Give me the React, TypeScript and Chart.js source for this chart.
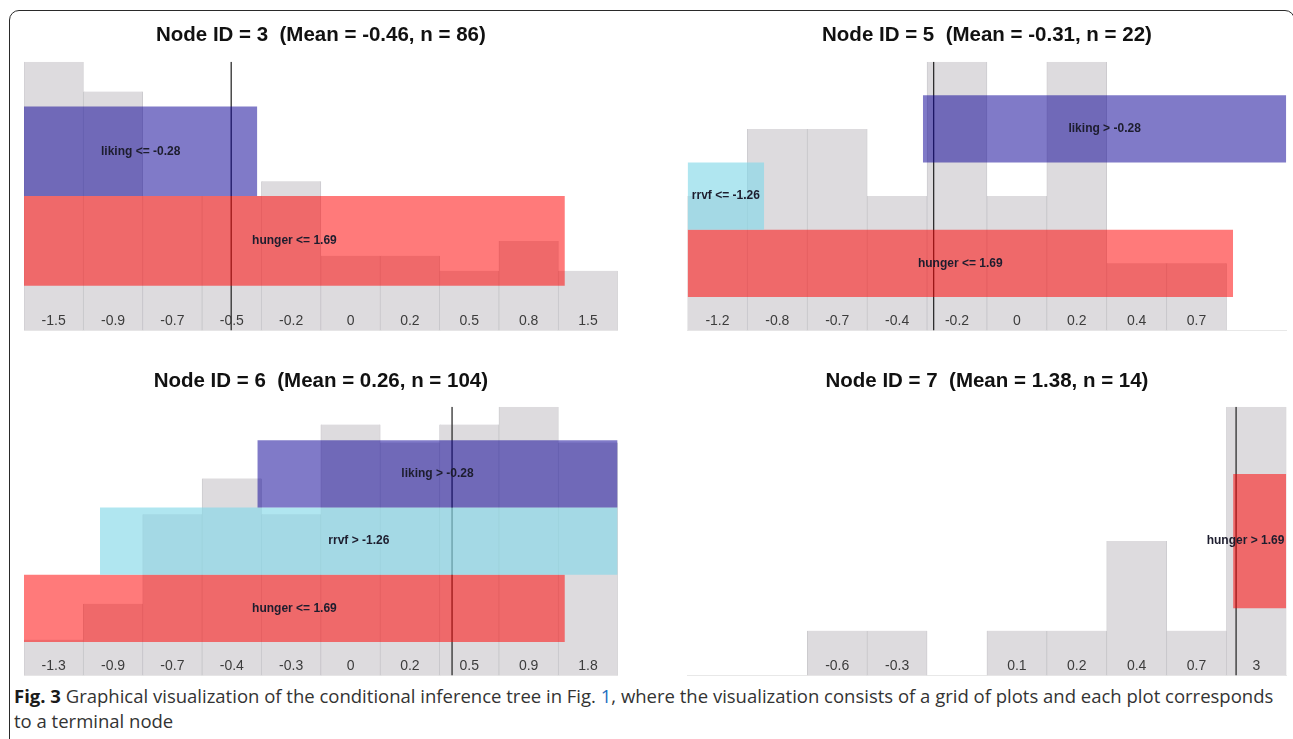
import React, { useEffect, useRef } from "react";
import { Chart, registerables } from "chart.js";

Chart.register(...registerables);

// ---------- Data ----------
// Node 3
const node3Title = "Node ID = 3  (Mean = -0.46, n = 86)";
const node3Bins = ["-1.5", "-0.9", "-0.7", "-0.5", "-0.2", "0", "0.2", "0.5", "0.8", "1.5"];
const node3Counts = [18, 16, 9, 9, 10, 5, 5, 4, 6, 4];
const node3MeanPos = 3.49;
const node3Rules = ["liking <= -0.28", "hunger <= 1.69"];
const node3RuleFrom = [0, 0];
const node3RuleTo = [3.93, 9.11];
const node3RuleLow = [9, 3];
const node3RuleHigh = [15, 9];

// Node 5
const node5Title = "Node ID = 5  (Mean = -0.31, n = 22)";
const node5Bins = ["-1.2", "-0.8", "-0.7", "-0.4", "-0.2", "0", "0.2", "0.4", "0.7", ""];
const node5Counts = [2, 3, 3, 2, 4, 2, 4, 1, 1, 0];
const node5MeanPos = 4.11;
const node5Rules = ["liking > -0.28", "rrvf <= -1.26", "hunger <= 1.69"];
const node5RuleFrom = [3.93, 0, 0];
const node5RuleTo = [10, 1.28, 9.11];
const node5RuleLow = [2.5, 1.5, 0.5];
const node5RuleHigh = [3.5, 2.5, 1.5];

// Node 6
const node6Title = "Node ID = 6  (Mean = 0.26, n = 104)";
const node6Bins = ["-1.3", "-0.9", "-0.7", "-0.4", "-0.3", "0", "0.2", "0.5", "0.9", "1.8"];
const node6Counts = [2, 4, 9, 11, 9, 14, 13, 14, 15, 13];
const node6MeanPos = 7.21;
const node6Rules = ["liking > -0.28", "rrvf > -1.26", "hunger <= 1.69"];
const node6RuleFrom = [3.93, 1.28, 0];
const node6RuleTo = [10, 10, 9.11];
const node6RuleLow = [9.375, 5.625, 1.875];
const node6RuleHigh = [13.125, 9.375, 5.625];

// Node 7
const node7Title = "Node ID = 7  (Mean = 1.38, n = 14)";
const node7Bins = ["", "", "-0.6", "-0.3", "", "0.1", "0.2", "0.4", "0.7", "3"];
const node7Counts = [0, 0, 1, 1, 0, 1, 1, 3, 1, 6];
const node7MeanPos = 9.16;
const node7Rules = ["hunger > 1.69"];
const node7RuleFrom = [9.11];
const node7RuleTo = [10];
const node7RuleLow = [1.5];
const node7RuleHigh = [4.5];

const SLOTS = 10;

const ruleColors: Record<string, string> = {
  liking: "rgba(12, 0, 150, 0.52)",
  rrvf: "rgba(133, 217, 232, 0.65)",
  hunger: "rgba(255, 0, 0, 0.52)",
};

type PanelProps = {
  title: string;
  bins: string[];
  counts: number[];
  meanPos: number;
  rules: string[];
  from: number[];
  to: number[];
  low: number[];
  high: number[];
  left: number;
  top: number;
  width: number;
  height: number;
  pad: { left: number; right: number; bottom: number };
  titlePad: { top: number; bottom: number };
};

function Panel(p: PanelProps) {
  const ref = useRef<HTMLCanvasElement | null>(null);
  useEffect(() => {
    if (!ref.current) return;
    const maxCount = Math.max(...p.counts);

    const labelPlugin = {
      id: "panelLabels",
      afterDatasetsDraw(chart: any) {
        const { ctx, chartArea, scales } = chart;
        const x = scales.x;
        const y = scales.y;
        ctx.save();
        // bin tick labels inside the bars
        ctx.font = '14px "Liberation Sans", Arial, sans-serif';
        ctx.fillStyle = "#3c3c3c";
        ctx.textAlign = "center";
        ctx.textBaseline = "middle";
        p.bins.forEach((b, i) => {
          if (!b) return;
          ctx.fillText(b, x.getPixelForValue(i + 0.5), y.getPixelForValue(0) - 9.5);
        });
        // rule labels
        ctx.font = 'bold 12px "Liberation Sans", Arial, sans-serif';
        ctx.fillStyle = "#1d1d2e";
        p.rules.forEach((r, i) => {
          const w = ctx.measureText(r).width;
          let cx = (x.getPixelForValue(p.from[i]) + x.getPixelForValue(p.to[i])) / 2;
          const maxCx = chartArea.right - w / 2 - 2;
          if (cx > maxCx) cx = maxCx;
          const cy = (y.getPixelForValue(p.low[i]) + y.getPixelForValue(p.high[i])) / 2;
          ctx.fillText(r, cx, cy);
        });
        ctx.restore();
      },
    };

    const ruleSets = p.rules.map((r, i) => ({
      type: "line" as const,
      data: [
        { x: p.from[i], y: p.high[i] },
        { x: p.to[i], y: p.high[i] },
      ],
      fill: { value: p.low[i] },
      backgroundColor: ruleColors[r.split(" ")[0]],
      borderColor: "rgba(0,0,0,0)",
      borderWidth: 0,
      pointRadius: 0,
      tension: 0,
      order: 1,
    }));

    const chart = new Chart(ref.current, {
      type: "bar",
      data: {
        datasets: [
          {
            type: "bar",
            data: p.counts.map((c, i) => ({ x: i + 0.5, y: c })),
            backgroundColor: "#dddbde",
            borderColor: "#c5c4c8",
            borderWidth: { left: 0.75, right: 0.75, top: 0, bottom: 0 },
            borderSkipped: false,
            barPercentage: 1,
            categoryPercentage: 1,
            order: 3,
          } as any,
          {
            type: "line",
            data: [
              { x: p.meanPos, y: 0 },
              { x: p.meanPos, y: maxCount },
            ],
            borderColor: "#2e2e2e",
            borderWidth: 1.3,
            pointRadius: 0,
            fill: false,
            order: 2,
          } as any,
          ...(ruleSets as any[]),
        ],
      },
      options: {
        animation: false,
        responsive: false,
        devicePixelRatio: 1,
        layout: { padding: { left: p.pad.left, right: p.pad.right, bottom: p.pad.bottom, top: 0 } },
        plugins: {
          legend: { display: false },
          tooltip: { enabled: false },
          title: {
            display: true,
            text: p.title,
            color: "#111111",
            font: { family: '"Liberation Sans", Arial, sans-serif', size: 20.5, weight: "bold" },
            padding: { top: p.titlePad.top, bottom: p.titlePad.bottom },
          },
        },
        scales: {
          x: {
            type: "linear",
            min: 0,
            max: SLOTS,
            offset: false,
            display: true,
            grid: { display: false, drawTicks: false, offset: false },
            ticks: { display: false, stepSize: 1 },
            border: { display: true, color: "#e8e8e8", width: 1 },
          },
          y: { type: "linear", min: 0, max: maxCount, display: false },
        },
      } as any,
      plugins: [labelPlugin],
    });
    return () => chart.destroy();
  }, []);

  return (
    <canvas
      ref={ref}
      width={p.width}
      height={p.height}
      style={{ position: "absolute", left: p.left, top: p.top, width: p.width, height: p.height }}
    />
  );
}

export default function App() {
  const leftCol = { left: 14, width: 616, pad: { left: 10, right: 12.3, bottom: 4.5 } };
  const rightCol = { left: 676, width: 615, pad: { left: 11.5, right: 4.6, bottom: 4.5 } };
  const topRow = { top: 10, height: 325, titlePad: { top: 12.7, bottom: 14.4 } };
  const botRow = { top: 355, height: 325, titlePad: { top: 14.4, bottom: 12.7 } };

  return (
    <div
      style={{
        position: "absolute",
        left: 0,
        top: 0,
        width: 1293,
        height: 739,
        overflow: "hidden",
        background: "#ffffff",
      }}
    >
      <div
        style={{
          position: "absolute",
          left: 9,
          top: 10,
          width: 1286,
          height: 900,
          border: "1.3px solid #2a2a2a",
          borderRadius: 10,
          boxSizing: "border-box",
        }}
      />
      <Panel
        title={node3Title}
        bins={node3Bins}
        counts={node3Counts}
        meanPos={node3MeanPos}
        rules={node3Rules}
        from={node3RuleFrom}
        to={node3RuleTo}
        low={node3RuleLow}
        high={node3RuleHigh}
        {...leftCol}
        {...topRow}
      />
      <Panel
        title={node5Title}
        bins={node5Bins}
        counts={node5Counts}
        meanPos={node5MeanPos}
        rules={node5Rules}
        from={node5RuleFrom}
        to={node5RuleTo}
        low={node5RuleLow}
        high={node5RuleHigh}
        {...rightCol}
        {...topRow}
      />
      <Panel
        title={node6Title}
        bins={node6Bins}
        counts={node6Counts}
        meanPos={node6MeanPos}
        rules={node6Rules}
        from={node6RuleFrom}
        to={node6RuleTo}
        low={node6RuleLow}
        high={node6RuleHigh}
        {...leftCol}
        {...botRow}
      />
      <Panel
        title={node7Title}
        bins={node7Bins}
        counts={node7Counts}
        meanPos={node7MeanPos}
        rules={node7Rules}
        from={node7RuleFrom}
        to={node7RuleTo}
        low={node7RuleLow}
        high={node7RuleHigh}
        {...rightCol}
        {...botRow}
      />
      <div
        style={{
          position: "absolute",
          left: 14,
          top: 682.5,
          whiteSpace: "nowrap",
          fontFamily: '"Open Sans", sans-serif',
          fontSize: 18.5,
          lineHeight: "25px",
          color: "#333333",
        }}
      >
        <span style={{ fontWeight: 700, color: "#1a1a1a" }}>Fig. 3</span>
        {"  "}Graphical visualization of the conditional inference tree in Fig.{" "}
        <span style={{ color: "#1f6fc0" }}>1</span>, where the visualization consists of a grid of plots and each plot
        corresponds
        <br />
        to a terminal node
      </div>
    </div>
  );
}
